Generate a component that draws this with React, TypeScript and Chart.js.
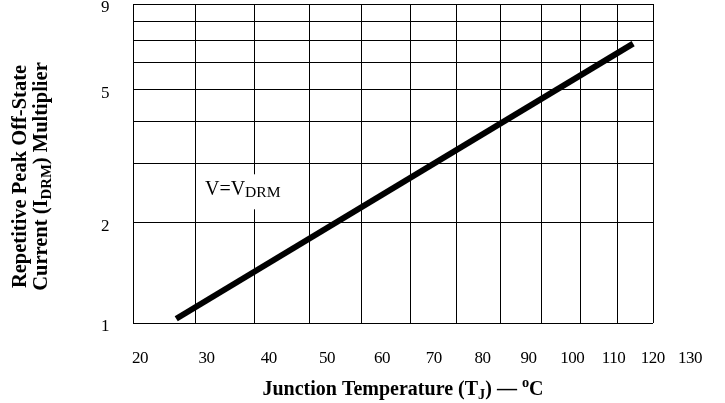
import React, { useEffect, useRef } from 'react';
import { Chart, registerables, LinearScale } from 'chart.js';

Chart.register(...registerables);

// ---- data ----
const GRID_TEMPS = [20, 30, 40, 50, 60, 70, 80, 90, 100, 110, 120, 130];
const TEMP_LABELS = [20, 30, 40, 50, 60, 70, 80, 90, 100, 110, 120, 130];
const Y_GRID = [1, 2, 3, 4, 5, 6, 7, 8, 9];
const Y_LABELS = [1, 2, 5, 9];
const CURVE_T = [26.8, 124.3];
const CURVE_M = [1.03, 6.85];
const ANNOT_T = 31.5;
const ANNOT_M = 2.41;

const Y_TITLE_1 = [{ t: 'Repetitive Peak Off-State' }];
const Y_TITLE_2 = [{ t: 'Current (I' }, { t: 'DRM', sub: true }, { t: ') Multiplier' }];
const X_TITLE = [
  { t: 'Junction Temperature (T' },
  { t: 'J', sub: true },
  { t: ') \u2014 ' },
  { t: 'o', sup: true },
  { t: 'C' },
];
const ANNOT_TEXT = [{ t: 'V=V' }, { t: 'DRM', sub: true }];

const FAMILY = "'Liberation Serif', 'Times New Roman', serif";

// Reciprocal-temperature (Arrhenius) scale
const toU = (t: number) => -1 / (t + 273.15);
class ArrheniusScale extends LinearScale {
  static id = 'arrhenius';
  static defaults = {};
  getPixelForValue(value: any) {
    if (value === null || value === undefined || isNaN(value)) return NaN;
    const a = toU(this.min), b = toU(this.max);
    return this.getPixelForDecimal((toU(value) - a) / (b - a));
  }
  getValueForPixel(pixel: number) {
    const a = toU(this.min), b = toU(this.max);
    return -1 / (a + this.getDecimalForPixel(pixel) * (b - a)) - 273.15;
  }
}
Chart.register(ArrheniusScale as any);

type Seg = { t: string; sub?: boolean; sup?: boolean };

function drawRich(
  ctx: CanvasRenderingContext2D,
  segs: Seg[],
  size: number,
  weight: string,
  align: 'center' | 'left',
  subScale = 0.75,
  subDy = 0.2
) {
  const fontFor = (s: Seg) =>
    `${weight} ${s.sub || s.sup ? Math.round(size * subScale * 10) / 10 : size}px ${FAMILY}`;
  let total = 0;
  const widths = segs.map((s) => {
    ctx.font = fontFor(s);
    const w = ctx.measureText(s.t).width;
    total += w;
    return w;
  });
  let x = align === 'center' ? -total / 2 : 0;
  ctx.textAlign = 'left';
  ctx.textBaseline = 'alphabetic';
  segs.forEach((s, i) => {
    ctx.font = fontFor(s);
    const dy = s.sub ? size * subDy : s.sup ? -size * 0.42 : 0;
    ctx.fillText(s.t, x, dy);
    x += widths[i];
  });
  return total;
}

const textPlugin = {
  id: 'richTexts',
  beforeDraw(chart: any) {
    (chart.ctx as any).letterSpacing = '-0.5px';
  },
  afterDraw(chart: any) {
    const ctx: CanvasRenderingContext2D = chart.ctx;
    const ca = chart.chartArea;
    const xs = chart.scales.x;
    const ys = chart.scales.y;
    ctx.save();
    (ctx as any).letterSpacing = '0px';
    ctx.fillStyle = '#000';

    // annotation V=V_DRM with white backing
    const ax = xs.getPixelForValue(ANNOT_T);
    const ay = ys.getPixelForValue(ANNOT_M);
    ctx.font = `20px ${FAMILY}`;
    let w = 0;
    ANNOT_TEXT.forEach((s) => {
      ctx.font = `${s.sub ? 15 : 20}px ${FAMILY}`;
      w += ctx.measureText(s.t).width;
    });
    ctx.fillStyle = '#fff';
    ctx.fillRect(ax - 4, ay - 21, w + 8, 35);
    ctx.fillStyle = '#000';
    ctx.save();
    ctx.translate(ax, ay);
    drawRich(ctx, ANNOT_TEXT, 20, 'normal', 'left', 0.78, 0.08);
    ctx.restore();

    // x title
    ctx.save();
    ctx.translate((ca.left + ca.right) / 2 + 10, 395);
    drawRich(ctx, X_TITLE, 20, 'bold', 'center', 0.72, 0.18);
    ctx.restore();

    // y title (two rotated lines)
    const cy = (ca.top + ca.bottom) / 2 + 13;
    ctx.save();
    ctx.translate(25.5, cy);
    ctx.rotate(-Math.PI / 2);
    drawRich(ctx, Y_TITLE_1, 20.5, 'bold', 'center');
    ctx.restore();
    ctx.save();
    ctx.translate(47, cy);
    ctx.rotate(-Math.PI / 2);
    drawRich(ctx, Y_TITLE_2, 20.5, 'bold', 'center', 0.72, 0.18);
    ctx.restore();

    ctx.restore();
  },
};

export default function App() {
  const ref = useRef<HTMLCanvasElement | null>(null);
  useEffect(() => {
    document.body.style.margin = '0';
    const canvas = ref.current;
    if (!canvas) return;
    const chart = new Chart(canvas, {
      type: 'line',
      data: {
        datasets: [
          {
            data: CURVE_T.map((t, i) => ({ x: t, y: CURVE_M[i] })),
            borderColor: '#000',
            borderWidth: 6,
            pointRadius: 0,
            fill: false,
            tension: 0,
            xAxisID: 'x',
            yAxisID: 'y',
          },
        ],
      },
      options: {
        responsive: false,
        animation: false,
        events: [],
        layout: { padding: { top: 4, right: 72, bottom: 0, left: 0 } },
        plugins: { legend: { display: false }, tooltip: { enabled: false } },
        scales: {
          x: {
            type: 'arrhenius' as any,
            position: 'bottom',
            min: 20,
            max: 130,
            afterBuildTicks: (s: any) => {
              s.ticks = GRID_TEMPS.map((value) => ({ value }));
            },
            afterFit: (s: any) => {
              s.height = 0;
              s.paddingLeft = 0;
              s.paddingRight = 0;
            },
            ticks: { display: false },
            grid: { color: '#000', lineWidth: 1, drawTicks: false },
            border: { display: false },
          },
          xl: {
            type: 'arrhenius' as any,
            position: 'bottom',
            min: 19,
            max: 120.07,
            afterBuildTicks: (s: any) => {
              s.ticks = TEMP_LABELS.map((value) => ({ value }));
            },
            afterFit: (s: any) => {
              s.height = 80;
              s.paddingLeft = 0;
              s.paddingRight = 0;
            },
            ticks: {
              color: '#000',
              font: { family: FAMILY, size: 17 },
              padding: 25,
              autoSkip: false,
              maxRotation: 0,
              minRotation: 0,
              callback: (v: any) => String(v),
            },
            grid: { display: false, drawTicks: false },
            border: { display: false },
          },
          y: {
            type: 'logarithmic',
            position: 'left',
            min: 1,
            max: 9,
            afterBuildTicks: (s: any) => {
              s.ticks = Y_GRID.map((value) => ({ value }));
            },
            afterFit: (s: any) => {
              s.width = 133;
              s.paddingTop = 0;
              s.paddingBottom = 0;
            },
            ticks: {
              color: '#000',
              font: { family: FAMILY, size: 17 },
              padding: 24,
              labelOffset: 4,
              autoSkip: false,
              callback: (v: any) => (Y_LABELS.includes(Number(v)) ? String(v) : ''),
            },
            grid: { color: '#000', lineWidth: 1, drawTicks: false },
            border: { display: false },
          },
        },
      } as any,
      plugins: [textPlugin],
    });
    return () => chart.destroy();
  }, []);
  return (
    <div style={{ width: 725, height: 403 }}>
      <canvas ref={ref} width={725} height={403} style={{ display: 'block' }} />
    </div>
  );
}
